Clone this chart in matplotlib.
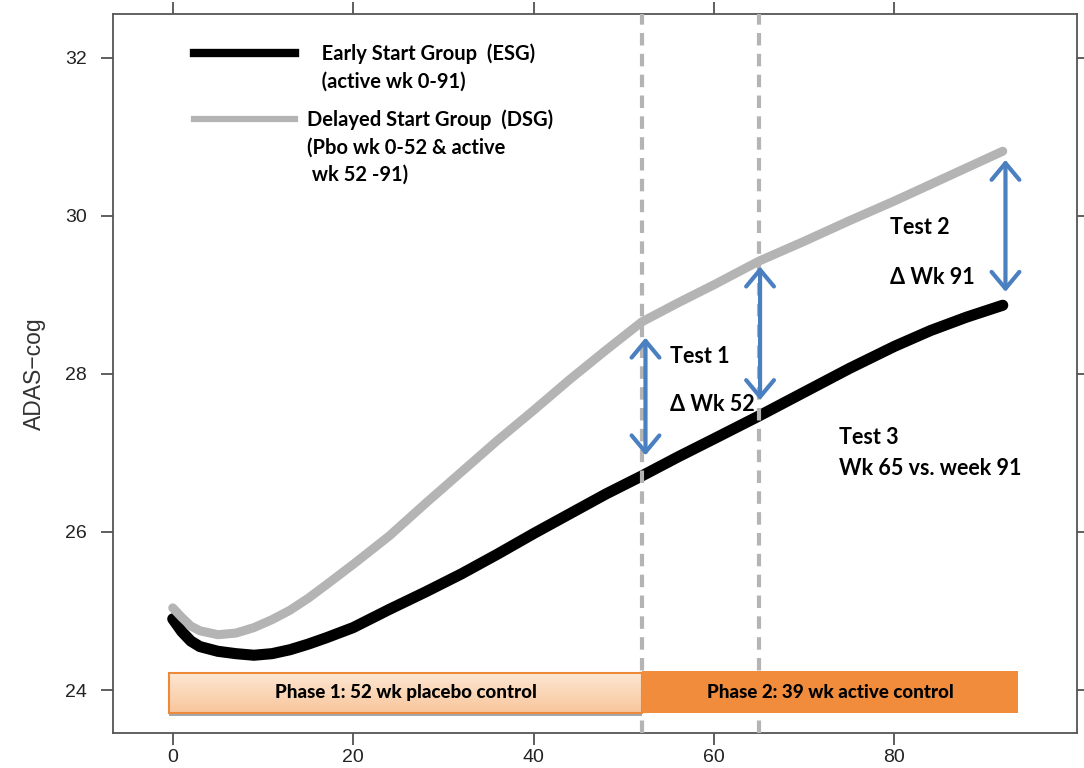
import numpy as np
import matplotlib
matplotlib.use("Agg")
from matplotlib import pyplot as plt
from matplotlib.lines import Line2D
from matplotlib import patheffects as pe

# semanas y puntajes ADAS-cog
semanas = [0, 1, 2, 3, 5, 7, 9, 11, 13, 15, 17, 20, 24, 28, 32, 36, 40, 44, 48,
           52, 56, 60, 65, 70, 75, 80, 84, 88, 92]
esg = [24.90, 24.74, 24.62, 24.55, 24.49, 24.46, 24.44, 24.46, 24.51, 24.58,
       24.66, 24.79, 25.02, 25.24, 25.47, 25.72, 25.98, 26.23, 26.48, 26.71,
       26.95, 27.18, 27.47, 27.77, 28.07, 28.35, 28.55, 28.72, 28.87]
dsg = [25.04, 24.92, 24.81, 24.75, 24.70, 24.72, 24.79, 24.89, 25.01, 25.16,
       25.33, 25.59, 25.95, 26.36, 26.76, 27.16, 27.54, 27.93, 28.30, 28.66,
       28.90, 29.13, 29.43, 29.68, 29.94, 30.19, 30.40, 30.61, 30.82]

# semanas de corte (lineas punteadas)
cortes = [52, 65]

# flechas de los tests
flecha_x = [52.4, 65.1, 92.3]
flecha_arriba = [28.46, 29.36, 30.71]
flecha_abajo = [26.97, 27.67, 29.04]

# fases del estudio
fase_nombres = ["Phase 1: 52 wk placebo control", "Phase 2: 39 wk active control"]
fase_inicio = [-0.4, 52]
fase_fin = [52, 93.7]
fase_y = [23.71, 24.215]

# textos de los tests
textos = ["Test 1", "\u0394 Wk 52", "Test 2", "\u0394 Wk 91", "Test 3", "Wk 65 vs. week 91"]
textos_x = [55.1, 55.1, 79.5, 79.5, 73.8, 73.8]
textos_y = [28.22, 27.61, 29.85, 29.22, 27.20, 26.81]

y_ticks = [24, 26, 28, 30, 32]
x_ticks = [0, 20, 40, 60, 80]

AZUL = "#4a7fc0"
GRIS = "#b4b4b4"
NARANJA = "#f08c3c"
fuente = ["Lato", "Open Sans", "DejaVu Sans"]


def main():
    fig = plt.figure(figsize=(10.84, 7.68), dpi=100)
    ax = fig.add_axes([0.104, 0.0456, 0.8893, 0.9362])
    ax.set_xlim(-6.65, 100.2)
    ax.set_ylim(23.456, 32.557)

    # curvas
    ax.plot(semanas, dsg, color=GRIS, lw=6.5, solid_capstyle="round",
            solid_joinstyle="round", zorder=2)
    ax.plot(semanas, esg, color="black", lw=8, solid_capstyle="round",
            solid_joinstyle="round", zorder=1.9)

    # lineas punteadas verticales
    for c in cortes:
        ax.axvline(c, color=GRIS, lw=3, dashes=(3, 2), zorder=3)

    # barras de fases
    alto = fase_y[1] - fase_y[0]
    b1 = ax.barh(fase_y[0], fase_fin[0] - fase_inicio[0], left=fase_inicio[0],
                 height=alto, align="edge", facecolor="none",
                 edgecolor="#ec8a3c", lw=1.5, zorder=4.5)[0]
    grad = np.linspace(0, 1, 50).reshape(-1, 1)
    cmap = matplotlib.colors.LinearSegmentedColormap.from_list("p", ["#fde6d2", "#f8c69c"])
    im = ax.imshow(grad, cmap=cmap, aspect="auto", origin="upper",
                   extent=[fase_inicio[0], fase_fin[0], fase_y[0], fase_y[1]], zorder=4)
    im.set_clip_path(b1)
    sombra = ax.barh(fase_y[0], fase_fin[0] - fase_inicio[0], left=fase_inicio[0],
                     height=alto, align="edge", facecolor="#a3a8ad",
                     edgecolor="none", zorder=3.9)[0]
    sombra.set_path_effects([pe.withSimplePatchShadow(offset=(0, -2.5), shadow_rgbFace="#a3a8ad", alpha=1)])
    ax.barh(fase_y[0], fase_fin[1] - fase_inicio[1], left=fase_inicio[1],
            height=alto + 0.03, align="edge", color=NARANJA, zorder=4.6)
    for nombre, a, b in zip(fase_nombres, fase_inicio, fase_fin):
        ax.text((a + b) / 2, (fase_y[0] + fase_y[1]) / 2, nombre, ha="center",
                va="center", fontsize=13.5, fontweight="black",
                family=fuente, zorder=5)

    # flechas
    for x, y1, y2 in zip(flecha_x, flecha_arriba, flecha_abajo):
        ax.annotate("", xy=(x, y2), xytext=(x, y1),
                    arrowprops=dict(arrowstyle="<->,head_length=0.6,head_width=0.5",
                                    color=AZUL, lw=3, shrinkA=0, shrinkB=0,
                                    mutation_scale=20),
                    zorder=6)

    for t, x, y in zip(textos, textos_x, textos_y):
        ax.text(x, y, t, ha="left", va="center", fontsize=15.5, fontweight="bold",
                family=fuente, zorder=6)

    # leyendas
    h1 = [Line2D([], [], color="black", lw=6), Line2D([], [], color="none")]
    l1 = ["   Early Start Group  (ESG)", "   (active wk 0-91)"]
    leg1 = ax.legend(h1, l1, loc="upper left", bbox_to_anchor=(0.066, 0.984),
                     frameon=False, handlelength=5.0, handletextpad=0.6,
                     labelspacing=0.38, prop=dict(family=fuente, size=14.5, weight="bold"))
    ax.add_artist(leg1)
    h2 = [Line2D([], [], color=GRIS, lw=4.5), Line2D([], [], color="none"),
          Line2D([], [], color="none")]
    l2 = ["Delayed Start Group  (DSG)", "(Pbo wk 0-52 & active", " wk 52 -91)"]
    ax.legend(h2, l2, loc="upper left", bbox_to_anchor=(0.066, 0.893),
              frameon=False, handlelength=5.0, handletextpad=0.6,
              labelspacing=0.38, prop=dict(family=fuente, size=14.5, weight="bold"))

    # ejes
    ax.set_xticks(x_ticks)
    ax.set_yticks(y_ticks)
    ax.tick_params(direction="out", length=8.5, width=1.2, color="#444444",
                   top=True, right=True, labeltop=False, labelright=False,
                   labelsize=14, labelcolor="#222222")
    ax.tick_params(axis="y", pad=10)
    ax.tick_params(axis="x", pad=3)
    for lab in ax.get_xticklabels() + ax.get_yticklabels():
        lab.set_family("Liberation Sans")
    for s in ax.spines.values():
        s.set_color("#555555")
        s.set_linewidth(1.3)
    ax.set_ylabel("ADAS\u2212cog", fontsize=16.5, family="Liberation Sans",
                  color="#333333", labelpad=14)

    fig.savefig("out.png", dpi=100)


if __name__ == "__main__":
    main()
